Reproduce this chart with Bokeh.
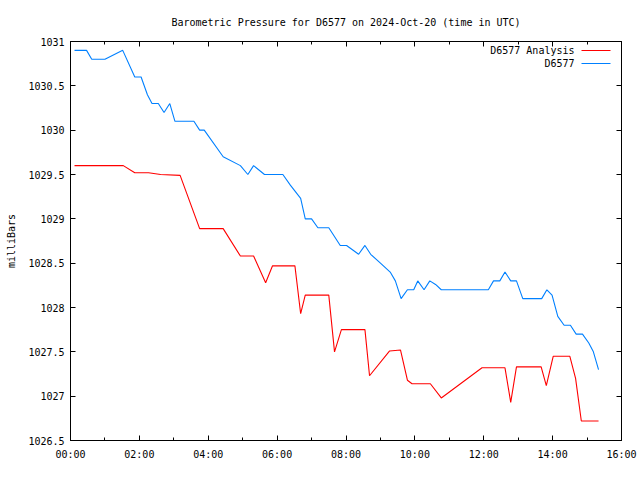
from bokeh.plotting import figure
from bokeh.models import LinearAxis, FixedTicker, Range1d, Label, BoxAnnotation, CustomLabelingPolicy
from bokeh.embed import file_html
from bokeh.resources import INLINE

title_text = "Barometric Pressure for D6577 on 2024-Oct-20 (time in UTC)"
y_label = "milliBars"
analysis_name = "D6577 Analysis"
obs_name = "D6577"

obs_times = ["00:07", "00:28", "00:37", "01:00", "01:31", "01:52", "02:03", "02:14",
             "02:22", "02:33", "02:43", "02:53", "03:02", "03:35", "03:45", "03:53",
             "04:26", "04:56", "05:09", "05:19", "05:38", "06:10", "06:23", "06:41",
             "06:49", "07:00", "07:11", "07:30", "07:50", "08:01", "08:22", "08:33",
             "08:43", "09:00", "09:17", "09:26", "09:36", "09:47", "09:58", "10:05",
             "10:16", "10:26", "10:36", "10:46", "12:08", "12:17", "12:28", "12:37",
             "12:47", "12:57", "13:08", "13:41", "13:50", "13:59", "14:09", "14:20",
             "14:31", "14:41", "14:52", "15:03", "15:11", "15:20"]
obs_values = [1030.9, 1030.9, 1030.8, 1030.8, 1030.9, 1030.6, 1030.6, 1030.4,
              1030.3, 1030.3, 1030.2, 1030.3, 1030.1, 1030.1, 1030.0, 1030.0,
              1029.7, 1029.6, 1029.5, 1029.6, 1029.5, 1029.5, 1029.38, 1029.23,
              1029.0, 1029.0, 1028.9, 1028.9, 1028.7, 1028.7, 1028.6, 1028.7,
              1028.6, 1028.5, 1028.4, 1028.3, 1028.1, 1028.2, 1028.2, 1028.3,
              1028.2, 1028.3, 1028.26, 1028.2, 1028.2, 1028.3, 1028.3, 1028.4,
              1028.3, 1028.3, 1028.1, 1028.1, 1028.2, 1028.14, 1027.9, 1027.8,
              1027.8, 1027.7, 1027.7, 1027.6, 1027.5, 1027.3]

ana_times = ["00:07", "01:32", "01:52", "02:16", "02:37", "03:11", "03:45", "04:26",
             "04:56", "05:19", "05:40", "05:52", "06:31", "06:41", "06:49", "07:30",
             "07:40", "07:52", "08:33", "08:41", "09:16", "09:35", "09:47", "09:55",
             "10:27", "10:46", "11:57", "12:37", "12:47", "12:57", "13:40", "13:49",
             "14:01", "14:30", "14:40", "14:50", "15:20"]
ana_values = [1029.6, 1029.6, 1029.52, 1029.52, 1029.5, 1029.49, 1028.89, 1028.89,
              1028.58, 1028.58, 1028.28, 1028.47, 1028.47, 1027.93, 1028.14, 1028.14,
              1027.5, 1027.75, 1027.75, 1027.23, 1027.51, 1027.52, 1027.18, 1027.14,
              1027.14, 1026.98, 1027.32, 1027.32, 1026.93, 1027.33, 1027.33, 1027.12,
              1027.45, 1027.45, 1027.2, 1026.72, 1026.72]

x_tick_hours = [0, 2, 4, 6, 8, 10, 12, 14, 16]
x_tick_labels = ["00:00", "02:00", "04:00", "06:00", "08:00", "10:00", "12:00", "14:00", "16:00"]
x_minor_hours = [1, 3, 5, 7, 9, 11, 13, 15]
y_ticks = [1026.5, 1027, 1027.5, 1028, 1028.5, 1029, 1029.5, 1030, 1030.5, 1031]
y_tick_labels = ["1026.5", "1027", "1027.5", "1028", "1028.5", "1029", "1029.5", "1030", "1030.5", "1031"]


def to_hours(t):
    h, m = t.split(":")
    return int(h) + int(m) / 60.0


obs_x = [to_hours(t) for t in obs_times]
ana_x = [to_hours(t) for t in ana_times]

FONT = "DejaVu Sans Mono"
FS = "10px"

p = figure(width=640, height=480, output_backend="svg", toolbar_location=None,
           x_range=Range1d(0, 16), y_range=Range1d(1026.5, 1031),
           min_border_left=70, min_border_right=19, min_border_top=41, min_border_bottom=40,
           x_axis_type=None, y_axis_type=None)
p.background_fill_color = "white"
p.border_fill_color = "white"
p.outline_line_color = "black"
p.outline_line_width = 1
p.grid.visible = False

p.title.text = title_text
p.title.text_font = FONT
p.title.text_font_size = FS
p.title.text_font_style = "normal"
p.title.align = "center"
p.title.text_color = "black"
p.title.standoff = 27

x_ticker = FixedTicker(ticks=x_tick_hours, minor_ticks=x_minor_hours)
y_ticker = FixedTicker(ticks=y_ticks, minor_ticks=[])

no_labels = CustomLabelingPolicy(
    code="for (let i = 0; i < indices.size; i++) { indices.unset(i) } return indices")


def style(ax, labels):
    ax.axis_line_color = "black"
    ax.major_tick_line_color = "black"
    ax.minor_tick_line_color = "black"
    ax.major_tick_in = 5
    ax.major_tick_out = 0
    ax.minor_tick_in = 3
    ax.minor_tick_out = 0
    ax.major_label_text_font = FONT
    ax.major_label_text_color = "black"
    if labels:
        ax.major_label_text_font_size = FS
    else:
        ax.major_label_text_font_size = "0px"
        ax.major_label_policy = no_labels
        ax.major_label_standoff = 0


xb = LinearAxis(ticker=x_ticker)
style(xb, True)
xb.major_label_overrides = {h: l for h, l in zip(x_tick_hours, x_tick_labels)}
xb.major_label_standoff = 8
p.add_layout(xb, "below")

xt = LinearAxis(ticker=x_ticker)
style(xt, False)
p.add_layout(xt, "above")

yl = LinearAxis(ticker=y_ticker)
style(yl, True)
yl.major_label_overrides = {v: l for v, l in zip(y_ticks, y_tick_labels)}
yl.major_label_standoff = 6
yl.axis_label = y_label
yl.axis_label_text_font = FONT
yl.axis_label_text_font_size = FS
yl.axis_label_text_font_style = "normal"
yl.axis_label_text_color = "black"
yl.axis_label_standoff = 8
p.add_layout(yl, "left")

yr = LinearAxis(ticker=y_ticker)
style(yr, False)
p.add_layout(yr, "right")

p.line(ana_x, ana_values, line_color="#ff0000", line_width=1.1)
p.line(obs_x, obs_values, line_color="#0080ff", line_width=1.1)

# legend (gnuplot style: text on the left, sample on the right)
for i, (name, col) in enumerate([(analysis_name, "#ff0000"), (obs_name, "#0080ff")]):
    yy = 390 - 13 * i
    p.add_layout(Label(x=504, y=yy, x_units="screen", y_units="screen", text=name,
                       text_font=FONT, text_font_size=FS, text_align="right",
                       text_baseline="middle", text_color="black"))
    p.add_layout(BoxAnnotation(left=511, right=540, bottom=yy - 0.5, top=yy + 0.5,
                               left_units="screen", right_units="screen",
                               top_units="screen", bottom_units="screen",
                               fill_color=col, fill_alpha=1.0, line_color=None))

open("out.html", "w").write(file_html(p, INLINE))
